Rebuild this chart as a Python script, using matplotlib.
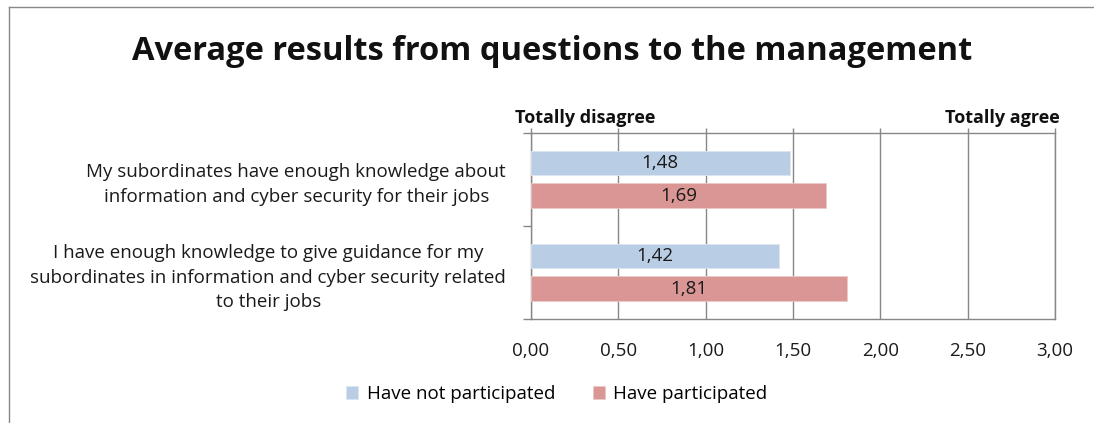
import matplotlib
matplotlib.use("Agg")
import matplotlib.pyplot as plt
from matplotlib.lines import Line2D
from matplotlib.ticker import FixedLocator, FuncFormatter

plt.rcParams["font.family"] = ["Open Sans", "DejaVu Sans"]

GRID = "#878787"
BLUE = "#b9cde5"
RED = "#d99694"
INK = "#1a1a1a"

questions = [
    "My subordinates have enough knowledge about\ninformation and cyber security for their jobs",
    "I have enough knowledge to give guidance for my\nsubordinates in information and cyber security related\nto their jobs",
]
not_participated = [1.48, 1.42]
participated = [1.69, 1.81]
series_names = ["Have not participated", "Have participated"]
xticks = [0.0, 0.5, 1.0, 1.5, 2.0, 2.5, 3.0]


def comma(v):
    return f"{v:.2f}".replace(".", ",")


fig = plt.figure(figsize=(10.94, 4.23), dpi=100)
ax = fig.add_axes([0.4854, 0.2459, 0.4790, 0.4397])

# outer chart frame (top and left edges only fall inside the image)
fig.add_artist(Line2D([0.0082, 1.0], [0.9835, 0.9835], color=GRID, lw=1.0,
                      transform=fig.transFigure))
fig.add_artist(Line2D([0.0082, 0.0082], [0.0, 0.9835], color=GRID, lw=1.0,
                      transform=fig.transFigure))

pos = list(range(len(questions)))
h, off = 0.262, 0.174
b1 = ax.barh([p - off for p in pos], not_participated, height=h, color=BLUE,
             edgecolor="#dce6f2", lw=0.6, label=series_names[0], zorder=3)
b2 = ax.barh([p + off for p in pos], participated, height=h, color=RED,
             edgecolor="#ecc9c8", lw=0.6, label=series_names[1], zorder=3)
for bars, vals in ((b1, not_participated), (b2, participated)):
    for rect, v in zip(bars, vals):
        ax.text(rect.get_x() + rect.get_width() / 2, rect.get_y() + rect.get_height() / 2,
                comma(v), ha="center", va="center", fontsize=13.5, color=INK, zorder=4)

ax.set_xlim(0, 3)
ax.set_ylim(1.5, -0.5)
ax.xaxis.set_major_locator(FixedLocator(xticks))
ax.xaxis.set_major_formatter(FuncFormatter(lambda v, _: comma(v)))
ax.tick_params(axis="x", which="major", bottom=False, top=True, direction="out",
               length=3.5, width=1.0, color=GRID, labelsize=13.5, labelcolor=INK,
               pad=13)
ax.grid(axis="x", color=GRID, lw=1.0, zorder=0)

ax.set_yticks(pos)
ax.set_yticklabels(questions, fontsize=13.5, multialignment="center", color=INK,
                   linespacing=1.45)
ax.tick_params(axis="y", which="major", length=0, pad=18)
ax.yaxis.set_minor_locator(FixedLocator([-0.5, 0.5, 1.5]))
ax.tick_params(axis="y", which="minor", length=6, width=1.0, color=GRID, direction="out")

for s in ax.spines.values():
    s.set_color(GRID)
    s.set_linewidth(1.0)

ax.text(-0.031, 1.03, "Totally disagree", transform=ax.transAxes, ha="left",
        va="bottom", fontsize=13, fontweight="bold", color="#111111")
ax.text(1.0095, 1.03, "Totally agree", transform=ax.transAxes, ha="right",
        va="bottom", fontsize=13, fontweight="bold", color="#111111")

fig.suptitle("Average results from questions to the management", x=0.505, y=0.918,
             fontsize=23.5, fontweight="bold", color="#111111")

fig.legend(handles=[b1, b2], labels=series_names, loc="center", ncol=2,
           bbox_to_anchor=(0.509, 0.068), frameon=False, fontsize=13.5,
           handlelength=0.65, handleheight=0.65, handletextpad=0.45, columnspacing=2.0)

fig.savefig("out.png", dpi=100)
